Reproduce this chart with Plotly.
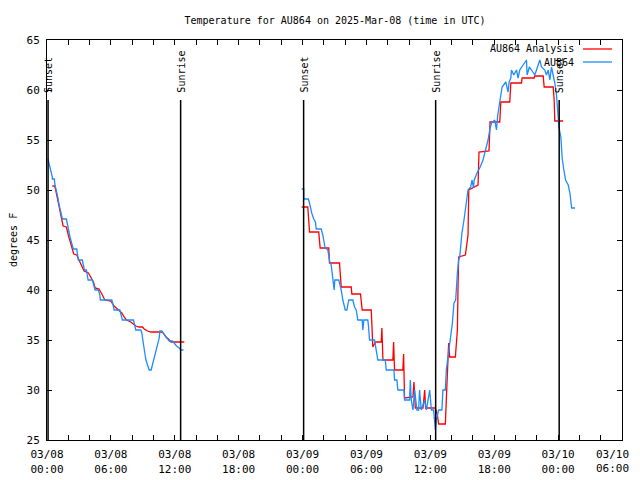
import plotly.graph_objects as go

# ---------------- data (hours since 2025-03-08 00:00 UTC, degrees F) ----------------
obs1_h = [0.09, 0.19, 0.28, 0.38, 0.50, 0.50, 0.69, 0.75, 0.87, 1.01, 1.10, 1.22, 1.32, 1.44, 1.82,
          1.91, 2.00, 2.16, 2.29, 2.42, 2.47, 2.79, 2.89, 2.94, 3.32, 3.41, 3.51, 3.70, 3.79, 3.86,
          4.26, 4.36, 4.52, 4.83, 4.96, 5.01, 6.09, 6.21, 6.30, 6.84, 6.93, 7.08, 8.12, 8.21, 8.34,
          8.81, 8.91, 8.97, 9.13, 9.29, 9.44, 9.60, 9.78, 9.91, 10.07, 10.23, 10.38, 10.54, 10.60,
          10.79, 10.91, 11.10, 11.32, 11.48, 11.79, 11.95, 12.16, 12.42, 12.58, 12.82]
obs1_t = [53.1, 52.7, 52.3, 51.8, 51.3, 51.1, 51.1, 50.5, 50.0, 49.3, 48.7, 48.2, 47.7, 47.1, 47.1,
          46.5, 46.0, 45.3, 44.8, 44.2, 44.1, 44.1, 43.5, 43.0, 43.0, 42.5, 42.0, 42.0, 41.5, 41.0,
          41.0, 40.5, 40.0, 40.0, 39.5, 39.0, 39.0, 38.5, 38.0, 38.0, 37.5, 37.0, 37.0, 36.5, 36.0,
          36.0, 35.7, 35.2, 34.0, 33.0, 32.5, 32.0, 32.0, 32.5, 33.2, 33.8, 34.5, 35.2, 35.9,
          35.9, 35.7, 35.4, 35.1, 34.9, 34.9, 34.7, 34.4, 34.2, 34.0, 34.0]

obs2_h = [23.92, 24.11, 24.11, 24.55, 24.65, 24.74, 24.86, 25.05, 25.21, 25.28, 25.75, 25.90, 25.99,
          26.12, 26.37, 26.46, 26.56, 26.69, 26.78, 26.91, 26.97, 27.03, 27.40, 27.54, 27.63, 27.78,
          28.01, 28.16, 28.25, 28.34, 28.72, 28.88, 29.04, 29.19, 29.60, 29.66, 29.76, 30.13, 30.20,
          30.29, 30.76, 30.92, 31.07, 31.77, 31.86, 32.58, 32.64, 32.86, 32.95, 33.52, 33.58, 34.05,
          34.12, 34.21, 34.37, 34.53, 34.74, 34.90, 34.99, 35.15, 35.47, 35.63, 35.94, 36.10, 36.31,
          36.47, 36.56, 36.78, 37.09, 37.18, 37.41, 37.50, 37.65, 37.82, 37.91, 38.07, 38.22, 38.38,
          38.54, 38.66, 38.76, 38.85, 38.97, 39.16, 39.29, 39.45, 39.54, 39.79, 39.92, 40.05, 40.12,
          40.23, 40.42, 40.64, 40.95, 41.11, 41.27, 41.42, 41.58, 41.74, 42.05, 42.21, 42.33, 42.52,
          42.74, 43.09, 43.30, 43.40, 43.56, 43.62, 43.84, 44.09, 44.24, 44.40, 44.71, 45.03, 45.09,
          45.30, 45.50, 45.81, 45.97, 46.28, 46.44, 46.75, 46.91, 47.07, 47.22, 47.38, 47.63, 47.69,
          47.85, 47.95, 48.07, 48.26, 48.38, 48.54, 48.70, 48.95, 49.11, 49.27, 49.58]
obs2_t = [50.1, 50.1, 49.1, 49.1, 48.7, 48.2, 47.7, 47.1, 46.8, 46.1, 46.1, 45.5, 44.8,
          44.2, 44.0, 43.5, 42.8, 42.5, 41.7, 40.5, 40.0, 41.0, 41.0, 40.4, 40.0, 39.0,
          38.0, 38.0, 38.5, 39.0, 39.0, 38.3, 38.0, 37.0, 37.0, 36.0, 37.0, 37.0, 36.3,
          35.0, 35.0, 34.0, 33.0, 33.0, 32.0, 32.0, 31.0, 31.0, 30.0, 30.0, 29.0, 29.0,
          31.0, 29.0, 28.0, 30.0, 28.0, 28.0, 30.0, 28.0, 29.0, 28.0, 30.0, 28.0, 28.0,
          26.0, 27.0, 28.0, 28.0, 30.0, 30.0, 32.0, 33.3, 34.7, 35.3, 36.7, 38.7, 39.0,
          41.7, 43.0, 43.3, 44.7, 45.7, 47.0, 48.3, 49.3, 50.0, 50.3, 51.0, 50.2, 51.0,
          51.3, 51.8, 52.2, 53.0, 53.7, 54.3, 55.0, 56.0, 56.7, 57.0, 56.0, 57.5, 59.0,
          60.3, 60.8, 59.8, 60.8, 61.2, 62.0, 61.5, 62.0, 61.2, 62.0, 62.5, 63.0, 61.5,
          62.3, 62.0, 61.5, 62.0, 63.0, 62.3, 62.0, 61.5, 62.0, 61.0, 62.3, 61.0, 60.7,
          59.5, 58.3, 56.3, 55.3, 53.2, 52.0, 51.0, 50.5, 49.7, 48.2, 48.2]

ana1_h = [0.50, 0.72, 0.82, 0.97, 1.06, 1.19, 1.32, 1.38, 1.51, 1.82, 2.00, 2.14, 2.32, 2.51, 2.79,
          3.01, 3.23, 3.48, 3.89, 4.11, 4.36, 4.52, 4.89, 5.15, 5.43, 5.99, 6.30, 6.61, 7.03, 7.24,
          7.46, 7.87, 8.09, 8.34, 8.65, 8.97, 9.13, 9.44, 9.76, 10.70, 10.91, 11.17, 11.41, 11.64, 12.89]
ana1_t = [50.4, 50.4, 50.0, 49.3, 48.7, 48.2, 47.7, 47.1, 46.4, 46.3, 45.5, 45.0, 44.3, 43.6, 43.5,
          43.0, 42.4, 41.9, 41.7, 41.3, 40.8, 40.2, 40.1, 39.6, 39.0, 38.9, 38.4, 38.1, 37.7, 37.3,
          37.0, 36.8, 36.6, 36.4, 36.3, 36.3, 36.1, 35.9, 35.8, 35.8, 35.7, 35.3, 35.1, 34.8, 34.8]

ana2_h = [23.92, 24.49, 24.58, 24.65, 25.52, 25.59, 25.65, 26.46, 26.53, 27.47, 27.63, 28.57, 28.63,
          29.44, 29.51, 29.60, 30.45, 30.55, 30.60, 30.86, 31.39, 31.45, 31.55, 32.48, 32.55, 32.64,
          33.42, 33.49, 33.58, 34.37, 34.46, 34.59, 35.31, 35.47, 35.56, 36.47, 36.66, 36.78, 37.41,
          37.50, 37.60, 37.72, 37.82, 38.35, 38.45, 38.54, 38.60, 38.66, 39.29, 39.39, 39.54, 39.61,
          40.48, 40.57, 41.51, 41.61, 42.52, 42.62, 43.46, 43.56, 44.56, 44.62, 45.75, 45.81, 46.60,
          46.69, 47.54, 47.63, 47.69, 48.47]
ana2_t = [48.3, 48.3, 47.0, 45.8, 45.8, 44.9, 44.2, 44.2, 42.7, 42.7, 40.3, 40.3, 39.6,
          39.6, 38.7, 38.0, 38.0, 36.1, 34.3, 34.8, 34.8, 36.2, 33.0, 33.0, 34.8, 32.0,
          32.0, 33.6, 29.2, 29.3, 30.8, 28.2, 28.2, 30.0, 28.2, 28.2, 27.5, 26.6, 26.6,
          29.0, 32.0, 34.7, 33.3, 33.3, 34.7, 36.0, 40.3, 43.3, 43.5, 44.5, 45.5, 50.0,
          50.5, 53.8, 53.9, 56.8, 56.8, 58.8, 58.8, 60.7, 60.7, 61.2, 61.2, 61.4, 61.4,
          60.3, 60.3, 59.0, 56.9, 56.9]

sunset_h = [0.1, 24.1, 48.1]
sunrise_h = [12.55, 36.5]

x_tickvals = [0, 6, 12, 18, 24, 30, 36, 42, 48, 54]
x_ticktext = ["03/08<br>00:00", "03/08<br>06:00", "03/08<br>12:00", "03/08<br>18:00",
              "03/09<br>00:00", "03/09<br>06:00", "03/09<br>12:00", "03/09<br>18:00",
              "03/10<br>00:00", "03/10<br>06:00"]
y_tickvals = [25, 30, 35, 40, 45, 50, 55, 60, 65]

series_names = ["AU864 Analysis", "AU864"]
series_colors = ["#ff0000", "#1e8cff"]

# ---------------- figure ----------------
FONT = "DejaVu Sans Mono"
# the page body has an 8px default margin; size the figure so the plot lands where it should
OFF = 8
FIG_W, FIG_H = 640 - OFF, 480 - OFF
PL, PT, PW, PH = 47, 40, 575, 400          # plot area in window pixels
ML, MT = PL - OFF, PT - OFF
MR = FIG_W - ML - PW
MB = FIG_H - MT - PH
VIS_RIGHT = 631                            # rightmost visible window pixel

fig = go.Figure()

ana_x = ana1_h + [None] + ana2_h
ana_y = ana1_t + [None] + ana2_t
obs_x = obs1_h + [None] + obs2_h
obs_y = obs1_t + [None] + obs2_t

fig.add_trace(go.Scatter(x=ana_x, y=ana_y, mode="lines", name=series_names[0],
                         line=dict(color=series_colors[0], width=1.3), connectgaps=False))
fig.add_trace(go.Scatter(x=obs_x, y=obs_y, mode="lines", name=series_names[1],
                         line=dict(color=series_colors[1], width=1.3), connectgaps=False))

shapes = []
annotations = []
for label, times in (("Sunset", sunset_h), ("Sunrise", sunrise_h)):
    for t in times:
        shapes.append(dict(type="line", xref="x", yref="y", x0=t, x1=t, y0=25, y1=59,
                           line=dict(color="black", width=1.5)))
        annotations.append(dict(x=t, y=59.5, xref="x", yref="y", text=label, textangle=-90,
                                showarrow=False, xanchor="center", yanchor="bottom",
                                font=dict(family=FONT, size=10, color="black")))

def px_x(p):
    return (p - PL) / PW
def px_y(p):
    return 1 - (p - PT) / PH

# gnuplot-style legend (text right-aligned, sample line to the right)
for i, (nm, col) in enumerate(zip(series_names, series_colors)):
    yy = px_y(49 + 13 * i)
    annotations.append(dict(x=px_x(576), y=yy, xref="paper", yref="paper", text=nm,
                            showarrow=False, xanchor="right", yanchor="middle",
                            font=dict(family=FONT, size=10, color="black")))
    shapes.append(dict(type="line", xref="paper", yref="paper", x0=px_x(583), x1=px_x(612),
                       y0=yy, y1=yy, line=dict(color=col, width=1.3)))

annotations.append(dict(x=px_x(13), y=0.5, xref="paper", yref="paper", text="degrees F",
                        textangle=-90, showarrow=False, xanchor="center", yanchor="middle",
                        font=dict(family=FONT, size=10, color="black")))

# the last tick label would run past the visible edge: draw it right-aligned at the edge
tick_text_shown = x_ticktext[:-1] + [""]
annotations.append(dict(x=px_x(VIS_RIGHT), y=px_y(446), xref="paper", yref="paper",
                        text=x_ticktext[-1], showarrow=False, xanchor="right", yanchor="top",
                        font=dict(family=FONT, size=11, color="black")))

fig.update_layout(
    width=FIG_W, height=FIG_H,
    margin=dict(l=ML, r=MR, t=MT, b=MB, autoexpand=False),
    paper_bgcolor="white", plot_bgcolor="white",
    showlegend=False,
    title=dict(text="Temperature for AU864 on 2025-Mar-08 (time in UTC)",
               x=px_x(335), xref="paper", xanchor="center",
               y=1 - (20 - OFF) / FIG_H, yref="container", yanchor="middle",
               font=dict(family=FONT, size=10, color="black")),
    font=dict(family=FONT, size=10, color="black"),
    shapes=shapes, annotations=annotations,
)
fig.update_xaxes(range=[0, 54], tickvals=x_tickvals, ticktext=tick_text_shown,
                 ticks="inside", ticklen=5, tickcolor="black", ticklabelstandoff=4,
                 minor=dict(dtick=2, tick0=0, ticks="inside", ticklen=5, tickcolor="black"),
                 showgrid=False, zeroline=False, showline=True, linecolor="black",
                 linewidth=1, mirror="ticks", tickfont=dict(family=FONT, size=11))
fig.update_yaxes(range=[25, 65], tickvals=y_tickvals,
                 ticks="inside", ticklen=5, tickcolor="black", ticklabelstandoff=4,
                 showgrid=False, zeroline=False, showline=True, linecolor="black",
                 linewidth=1, mirror="ticks", tickfont=dict(family=FONT, size=11))

fig.write_html("out.html")
